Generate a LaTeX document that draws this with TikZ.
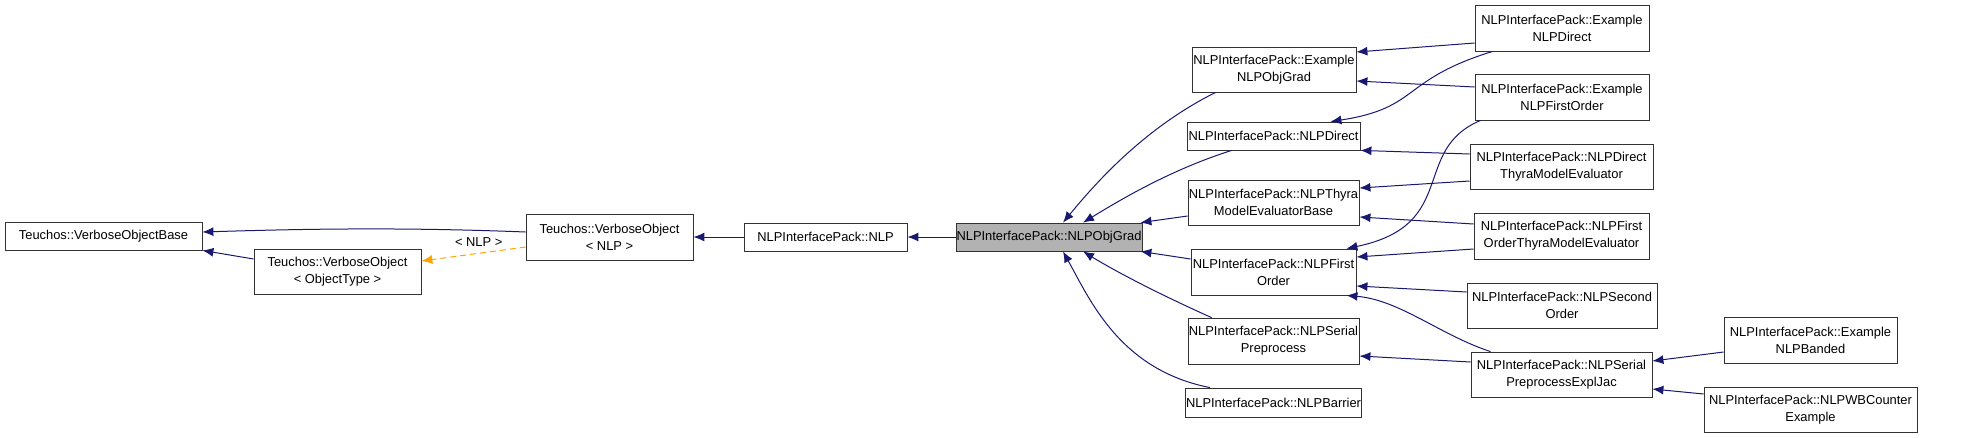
\documentclass[tikz,border=0pt]{standalone}
\usepackage{fontspec}
\setmainfont{Liberation Sans}
\usetikzlibrary{arrows.meta,positioning}
\definecolor{edgeblue}{HTML}{191970}
\definecolor{tmplorange}{HTML}{FFA500}
\begin{document}
\begin{tikzpicture}[x=1pt,y=-1pt]
\tikzstyle{cls} = [
	shape=rectangle,
	draw=black!80, %box border
	fill=white,
	line width=0.8pt,
	align=center,
	font=\fontsize{12.9}{17}\selectfont,
	inner sep=0.5pt
];
\tikzstyle{inh} = [-{Latex[length=11pt,width=9pt]}, line width=1pt, color=edgeblue];
\useasboundingbox (0,0) rectangle (1968,437);

%left part
\node[cls, minimum width=197pt, minimum height=28pt](VOBase) at (103.5,236) {Teuchos::VerboseObjectBase};
\node[cls, minimum width=167pt, minimum height=45pt](VOType) at (337.5,271.5) {Teuchos::VerboseObject\\{<} ObjectType {>}};
\node[cls, minimum width=167pt, minimum height=46pt](VONLP) at (609.5,237) {Teuchos::VerboseObject\\{<} NLP {>}};
\node[cls, minimum width=163pt, minimum height=28pt](NLP) at (825.5,237) {NLPInterfacePack::NLP};
\node[cls, minimum width=184pt, minimum height=28pt, fill=black!30](ObjGrad) at (1049,237) {NLPInterfacePack::NLPObjGrad};

%middle column
\node[cls, minimum width=164pt, minimum height=45pt](ExObjGrad) at (1274,69.5) {NLPInterfacePack::Example\\NLPObjGrad};
\node[cls, minimum width=173pt, minimum height=28pt](Direct) at (1273.5,136) {NLPInterfacePack::NLPDirect};
\node[cls, minimum width=171pt, minimum height=45pt](Thyra) at (1273.5,202.5) {NLPInterfacePack::NLPThyra\\ModelEvaluatorBase};
\node[cls, minimum width=165pt, minimum height=46pt](FirstOrder) at (1273.5,272) {NLPInterfacePack::NLPFirst\\Order};
\node[cls, minimum width=171pt, minimum height=46pt](SerialPre) at (1273.5,341) {NLPInterfacePack::NLPSerial\\Preprocess};
\node[cls, minimum width=175pt, minimum height=29pt](Barrier) at (1273.5,402.5) {NLPInterfacePack::NLPBarrier};

%right column
\node[cls, minimum width=174pt, minimum height=46pt](ExDirect) at (1562,28) {NLPInterfacePack::Example\\NLPDirect};
\node[cls, minimum width=174pt, minimum height=46pt](ExFirstOrder) at (1562,97) {NLPInterfacePack::Example\\NLPFirstOrder};
\node[cls, minimum width=183pt, minimum height=45pt](DirectThyra) at (1561.5,166.5) {NLPInterfacePack::NLPDirect\\ThyraModelEvaluator};
\node[cls, minimum width=175pt, minimum height=46pt](FirstThyra) at (1561.5,236) {NLPInterfacePack::NLPFirst\\OrderThyraModelEvaluator};
\node[cls, minimum width=190pt, minimum height=45pt](SecondOrder) at (1562,305.5) {NLPInterfacePack::NLPSecond\\Order};
\node[cls, minimum width=181pt, minimum height=45pt](ExplJac) at (1561.5,374.5) {NLPInterfacePack::NLPSerial\\PreprocessExplJac};
\node[cls, minimum width=173pt, minimum height=46pt](ExBanded) at (1810.5,340) {NLPInterfacePack::Example\\NLPBanded};
\node[cls, minimum width=213pt, minimum height=45pt](WBCounter) at (1810.5,409.5) {NLPInterfacePack::NLPWBCounter\\Example};

%base classes
\draw[inh] ([yshift=5pt]VONLP.west) .. controls (400,227) and (300,229) .. ([yshift=4pt]VOBase.east);
\draw[inh] ([yshift=12.5pt]VOType.west) -- (VOBase.south east);
\draw[-{Latex[length=11pt,width=9pt]}, line width=1pt, color=tmplorange, dashed, dash pattern=on 6pt off 4pt]
	([yshift=-10pt]VONLP.west) -- node[above, pos=0.45, yshift=3pt, text=black, font=\fontsize{12.9}{14}\selectfont]{{<} NLP {>}} ([yshift=10.5pt]VOType.east);
\draw[inh] (NLP) -- (VONLP);
\draw[inh] (ObjGrad) -- (NLP);

%children of NLPObjGrad
\draw[inh] ([xshift=24pt]ExObjGrad.south west) .. controls (1140,130) and (1090,190) .. ([xshift=14pt]ObjGrad.north);
\draw[inh] ([xshift=45pt]Direct.south west) .. controls (1170,170) and (1120,200) .. ([xshift=34pt]ObjGrad.north);
\draw[inh] ([yshift=-13.5pt]Thyra.west) -- ([xshift=-2pt]ObjGrad.north east);
\draw[inh] ([yshift=13pt]FirstOrder.west) -- ([xshift=-2pt]ObjGrad.south east);
\draw[inh] ([xshift=24pt]SerialPre.north west) .. controls (1150,290) and (1110,268) .. ([xshift=34pt]ObjGrad.south);
\draw[inh] ([xshift=25pt]Barrier.north west) .. controls (1120,370) and (1090,300) .. ([xshift=14pt]ObjGrad.south);

%right column edges
\draw[inh] ([yshift=-15pt]ExDirect.west) -- ([yshift=17.5pt]ExObjGrad.east);
\draw[inh] ([xshift=18pt]ExDirect.south west) .. controls (1400,80) and (1420,108) .. ([xshift=-30pt]Direct.north east);
\draw[inh] ([yshift=10pt]ExFirstOrder.west) -- ([yshift=-11.5pt]ExObjGrad.east);
\draw[inh] ([xshift=6pt]ExFirstOrder.south west) .. controls (1410,150) and (1460,225) .. ([xshift=-10pt]FirstOrder.north east);
\draw[inh] ([yshift=12.5pt]DirectThyra.west) -- (Direct.south east);
\draw[inh] ([yshift=-14.5pt]DirectThyra.west) -- ([yshift=14.5pt]Thyra.east);
\draw[inh] ([yshift=12pt]FirstThyra.west) -- ([yshift=-14.5pt]Thyra.east);
\draw[inh] ([yshift=-13pt]FirstThyra.west) -- ([yshift=15pt]FirstOrder.east);
\draw[inh] ([yshift=13.5pt]SecondOrder.west) -- ([yshift=-14pt]FirstOrder.east);
\draw[inh] ([xshift=20pt]ExplJac.north west) .. controls (1440,335) and (1400,300) .. ([xshift=-10pt]FirstOrder.south east);
\draw[inh] ([yshift=12.5pt]ExplJac.west) -- ([yshift=-15pt]SerialPre.east);
\draw[inh] ([yshift=-12pt]ExBanded.west) -- ([yshift=13.5pt]ExplJac.east);
\draw[inh] ([yshift=15.5pt]WBCounter.west) -- ([yshift=-14.5pt]ExplJac.east);
\end{tikzpicture}
\end{document}
